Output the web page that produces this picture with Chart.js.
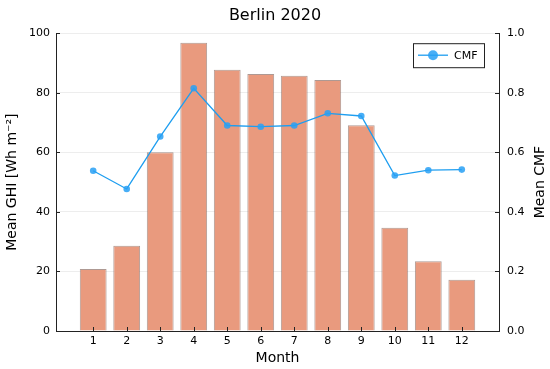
<!DOCTYPE html>
<html>
<head>
<meta charset="utf-8">
<script src="https://cdn.jsdelivr.net/npm/chart.js@4/dist/chart.umd.min.js"></script>
<style>
  html, body { margin: 0; padding: 0; background: #fff; }
  canvas { display: block; }
</style>
</head>
<body>
<canvas id="chart" width="550" height="369"></canvas>
<script>
// 数据
const months = [1, 2, 3, 4, 5, 6, 7, 8, 9, 10, 11, 12];
const ghi = [20.8, 28.6, 60.0, 96.8, 87.7, 86.3, 85.7, 84.3, 69.1, 34.7, 23.4, 17.2];
const cmf = [0.538, 0.477, 0.653, 0.815, 0.690, 0.686, 0.690, 0.731, 0.722, 0.522, 0.540, 0.542];
const ghiTicks = [0, 20, 40, 60, 80, 100];
const cmfTicks = [0, 0.2, 0.4, 0.6, 0.8, 1.0];

const FONT = 'DejaVu Sans';
const AXIS = '#222';
const LINE_COLOR = 'rgb(30,158,240)';
const MARKER_COLOR = 'rgba(40,160,245,0.85)';

// 向内的刻度线 + 右侧轴标题 + 图例
const extras = {
  id: 'extras',
  afterDraw(chart) {
    const { ctx, chartArea: a, scales } = chart;
    ctx.save();
    ctx.strokeStyle = AXIS;
    ctx.lineWidth = 1;
    ctx.beginPath();
    months.forEach((m) => {
      const x = Math.round(scales.x.getPixelForValue(m)) + 0.5;
      ctx.moveTo(x, a.bottom);
      ctx.lineTo(x, a.bottom - 4);
    });
    ghiTicks.forEach((v) => {
      const y = Math.round(scales.y.getPixelForValue(v)) + 0.5;
      ctx.moveTo(a.left, y);
      ctx.lineTo(a.left + 4, y);
    });
    cmfTicks.forEach((v) => {
      const y = Math.round(scales.y2.getPixelForValue(v)) + 0.5;
      ctx.moveTo(a.right, y);
      ctx.lineTo(a.right - 4, y);
    });
    ctx.stroke();

    // 右侧轴标题，从下往上读
    ctx.fillStyle = '#000';
    ctx.font = `14px ${FONT}`;
    ctx.textAlign = 'center';
    ctx.textBaseline = 'middle';
    ctx.translate(540, (a.top + a.bottom) / 2);
    ctx.rotate(-Math.PI / 2);
    ctx.fillText('Mean CMF', 0, 0);
    ctx.restore();

    // 图例
    const lx = a.right - 86, ly = a.top + 10, lw = 71, lh = 24;
    ctx.save();
    ctx.fillStyle = '#fff';
    ctx.fillRect(lx, ly, lw, lh);
    ctx.strokeStyle = AXIS;
    ctx.lineWidth = 1;
    ctx.strokeRect(lx + 0.5, ly + 0.5, lw, lh);
    const cy = ly + lh / 2;
    ctx.strokeStyle = LINE_COLOR;
    ctx.lineWidth = 1.3;
    ctx.beginPath();
    ctx.moveTo(lx + 5, cy);
    ctx.lineTo(lx + 35, cy);
    ctx.stroke();
    ctx.fillStyle = MARKER_COLOR;
    ctx.beginPath();
    ctx.arc(lx + 20, cy, 5, 0, Math.PI * 2);
    ctx.fill();
    ctx.fillStyle = '#000';
    ctx.font = `11px ${FONT}`;
    ctx.textAlign = 'left';
    ctx.textBaseline = 'middle';
    ctx.fillText('CMF', lx + 41, cy + 0.5);
    ctx.restore();
  },
};

const fixWidth = (w) => (scale) => { scale.width = w; };
const fixHeight = (h) => (scale) => { scale.height = h; };

new Chart(document.getElementById('chart').getContext('2d'), {
  data: {
    datasets: [
      {
        type: 'line',
        label: 'CMF',
        data: months.map((m, i) => ({ x: m, y: cmf[i] })),
        yAxisID: 'y2',
        borderColor: LINE_COLOR,
        borderWidth: 1.3,
        pointRadius: 3.3,
        pointBackgroundColor: MARKER_COLOR,
        pointBorderWidth: 0,
        tension: 0,
        order: 0,
      },
      {
        type: 'bar',
        label: 'GHI',
        data: months.map((m, i) => ({ x: m, y: ghi[i] })),
        yAxisID: 'y',
        backgroundColor: 'rgb(233,154,126)',
        borderColor: 'rgba(120,85,75,0.6)',
        borderWidth: 1,
        borderSkipped: 'bottom',
        categoryPercentage: 0.8,
        barPercentage: 1,
        order: 1,
      },
    ],
  },
  options: {
    responsive: false,
    devicePixelRatio: 1,
    animation: false,
    layout: { padding: 0 },
    plugins: {
      legend: { display: false },
      tooltip: { enabled: false },
      title: {
        display: true,
        text: 'Berlin 2020',
        color: '#000',
        font: { family: FONT, size: 16, weight: 'normal' },
        padding: { top: 6, bottom: 8 },
      },
    },
    scales: {
      x: {
        type: 'linear',
        offset: false,
        min: -0.11,
        max: 13.11,
        afterFit: fixHeight(38),
        afterBuildTicks: (scale) => { scale.ticks = months.map((m) => ({ value: m })); },
        ticks: {
          color: '#000',
          font: { family: FONT, size: 11 },
          padding: 4,
          maxRotation: 0,
          callback: (v) => String(v),
        },
        grid: { display: true, drawOnChartArea: false, drawTicks: false },
        border: { display: true, color: AXIS, width: 1 },
        title: {
          display: true,
          text: 'Month',
          color: '#000',
          font: { family: FONT, size: 14 },
          padding: { top: 0, bottom: 2 },
        },
      },
      y: {
        position: 'left',
        min: 0,
        max: 100,
        afterFit: fixWidth(56),
        ticks: {
          stepSize: 20,
          color: '#000',
          font: { family: FONT, size: 11 },
          padding: 6,
        },
        grid: {
          color: 'rgba(0,0,0,0.07)',
          drawTicks: false,
        },
        border: { display: true, color: AXIS, width: 1 },
        title: {
          display: true,
          text: 'Mean GHI [Wh m⁻²]',
          color: '#000',
          font: { family: FONT, size: 14 },
          padding: { top: 4, bottom: 0 },
        },
      },
      y2: {
        position: 'right',
        min: 0,
        max: 1,
        afterFit: fixWidth(51),
        ticks: {
          stepSize: 0.2,
          color: '#000',
          font: { family: FONT, size: 11 },
          padding: 8,
          callback: (v) => v.toFixed(1),
        },
        grid: { drawOnChartArea: false, drawTicks: false },
        border: { display: true, color: AXIS, width: 1 },
      },
    },
  },
  plugins: [extras],
});
</script>
</body>
</html>
